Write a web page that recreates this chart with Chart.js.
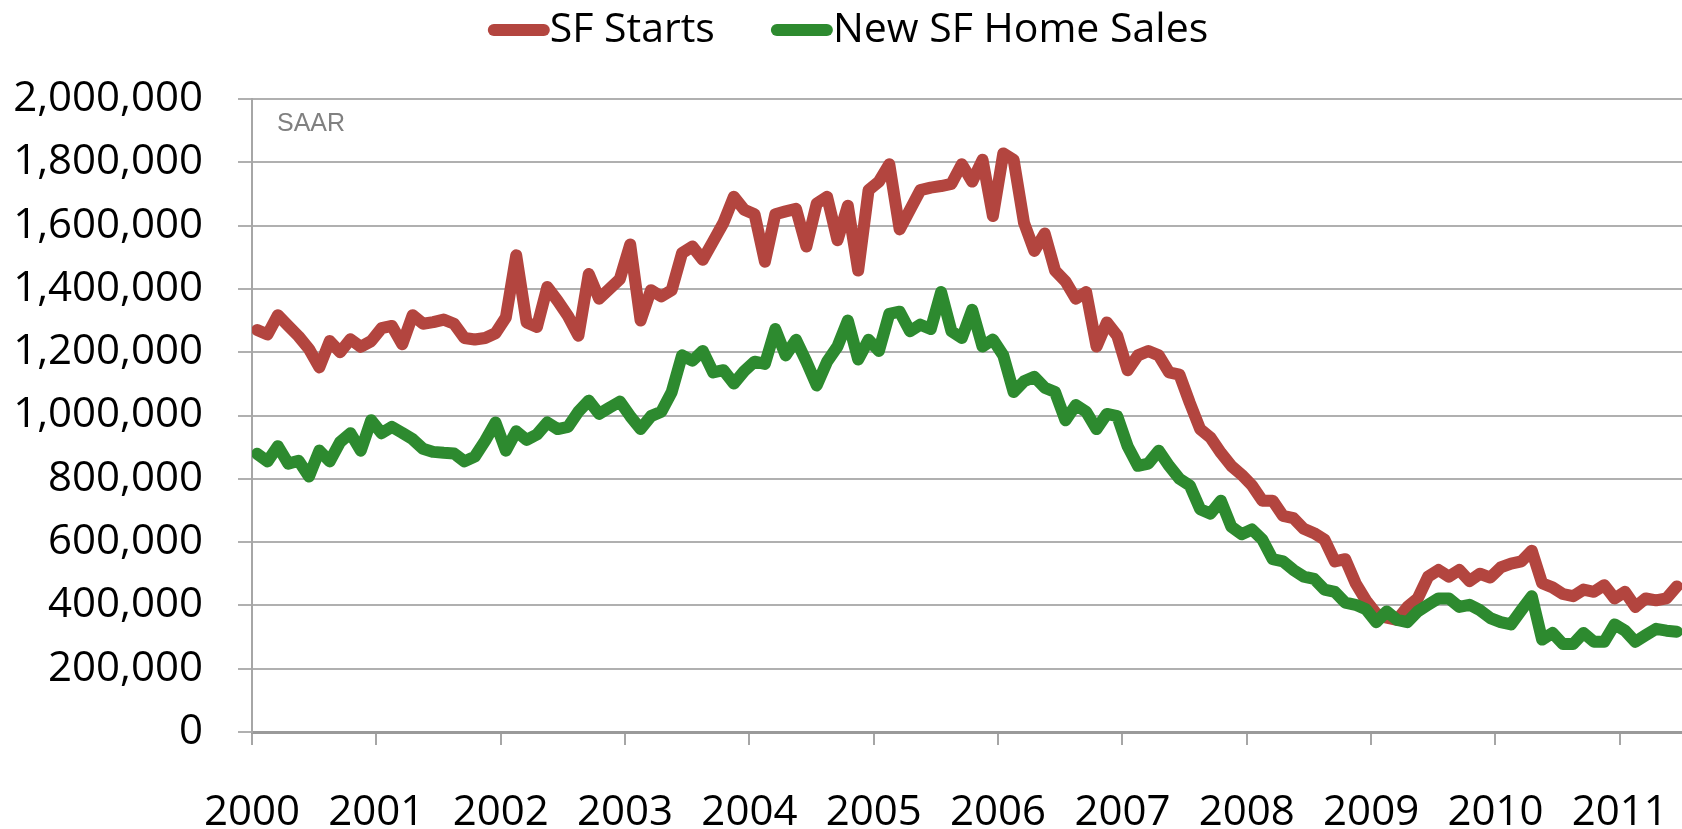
<!DOCTYPE html>
<html>
<head>
<meta charset="utf-8">
<title>SF Starts vs New SF Home Sales</title>
<script src="https://cdn.jsdelivr.net/npm/chart.js@4.4.1/dist/chart.umd.min.js"></script>
<style>
  html, body { margin: 0; padding: 0; background: #fff; }
  #wrap { width: 1682px; height: 829px; }
</style>
</head>
<body>
<div id="wrap"><canvas id="housingChart"></canvas></div>
<script>
// monthly, Jan 2000 .. Jun 2011, seasonally adjusted annual rate
const sfStarts = [
  1270000, 1256000, 1317000, 1283000, 1250000, 1210000, 1152000, 1235000, 1200000, 1241000, 1217000, 1235000,
  1276000, 1283000, 1225000, 1317000, 1290000, 1295000, 1303000, 1290000, 1245000, 1240000, 1245000, 1260000,
  1310000, 1506000, 1294000, 1280000, 1406000, 1362000, 1314000, 1252000, 1447000, 1369000, 1400000, 1431000,
  1540000, 1300000, 1396000, 1376000, 1396000, 1513000, 1534000, 1492000, 1550000, 1609000, 1691000, 1650000,
  1636000, 1486000, 1636000, 1645000, 1653000, 1534000, 1670000, 1691000, 1554000, 1663000, 1458000, 1712000,
  1739000, 1794000, 1588000, 1650000, 1712000, 1720000, 1725000, 1732000, 1794000, 1739000, 1808000, 1630000,
  1828000, 1808000, 1609000, 1520000, 1575000, 1458000, 1424000, 1369000, 1390000, 1218000, 1294000, 1252000,
  1143000, 1190000, 1204000, 1190000, 1136000, 1129000, 1040000, 957000, 930000, 882000, 841000, 813000,
  779000, 731000, 731000, 683000, 676000, 642000, 628000, 608000, 539000, 546000, 470000, 416000,
  374000, 361000, 354000, 395000, 422000, 491000, 512000, 491000, 512000, 477000, 500000, 488000,
  520000, 532000, 539000, 573000, 470000, 457000, 436000, 429000, 450000, 443000, 464000, 422000,
  443000, 395000, 422000, 416000, 422000, 460000
];
const newHomeSales = [
  879000, 855000, 903000, 848000, 857000, 807000, 889000, 855000, 916000, 944000, 889000, 985000,
  944000, 964000, 945000, 925000, 895000, 885000, 882000, 880000, 855000, 870000, 920000, 978000,
  889000, 950000, 923000, 940000, 978000, 957000, 964000, 1012000, 1047000, 1005000, 1025000, 1044000,
  998000, 957000, 998000, 1012000, 1074000, 1190000, 1173000, 1204000, 1136000, 1143000, 1101000, 1140000,
  1170000, 1163000, 1273000, 1190000, 1239000, 1170000, 1095000, 1170000, 1218000, 1300000, 1177000, 1239000,
  1204000, 1321000, 1328000, 1266000, 1287000, 1273000, 1390000, 1266000, 1245000, 1334000, 1218000, 1240000,
  1190000, 1074000, 1108000, 1122000, 1088000, 1074000, 985000, 1033000, 1012000, 957000, 1005000, 998000,
  903000, 841000, 848000, 889000, 841000, 800000, 779000, 704000, 690000, 731000, 649000, 625000,
  640000, 608000, 546000, 539000, 512000, 491000, 484000, 450000, 443000, 409000, 402000, 388000,
  347000, 381000, 354000, 347000, 381000, 402000, 422000, 422000, 395000, 402000, 385000, 360000,
  347000, 340000, 385000, 429000, 292000, 313000, 278000, 278000, 313000, 285000, 285000, 340000,
  320000, 285000, 306000, 326000, 320000, 317000
];
const yearTicks = [0, 12, 24, 36, 48, 60, 72, 84, 96, 108, 120, 132]; // months since Jan 2000
const yearLabels = ['2000', '2001', '2002', '2003', '2004', '2005', '2006', '2007', '2008', '2009', '2010', '2011'];
const seriesNames = ['SF Starts', 'New SF Home Sales'];
const seriesColors = ['#b3453f', '#2d8a2f'];

// points sit in the middle of their month
const toPoints = arr => arr.map((v, i) => ({ x: i + 0.5, y: v }));

const lineLegend = {
  id: 'lineLegend',
  afterDraw(chart) {
    const ctx = chart.ctx;
    const items = chart.data.datasets;
    const lineLen = 50, cap = 6, gap = 56, y = 30;
    ctx.save();
    ctx.font = '41px "Open Sans"';
    ctx.textBaseline = 'middle';
    const widths = items.map(ds => lineLen + cap * 2 + ctx.measureText(ds.label).width);
    let x = chart.width / 2 + 7 - (widths.reduce((a, b) => a + b) + gap) / 2;
    items.forEach((ds, i) => {
      ctx.strokeStyle = ds.borderColor;
      ctx.lineWidth = ds.borderWidth;
      ctx.lineCap = 'round';
      ctx.beginPath();
      ctx.moveTo(x + cap, y);
      ctx.lineTo(x + cap + lineLen, y);
      ctx.stroke();
      ctx.fillStyle = '#000';
      ctx.fillText(ds.label, x + lineLen + cap * 2, y);
      x += widths[i] + gap;
    });
    ctx.restore();
  }
};

const saarNote = {
  id: 'saarNote',
  afterDraw(chart) {
    const ctx = chart.ctx;
    const area = chart.chartArea;
    ctx.save();
    ctx.font = '25px "Liberation Sans"';
    ctx.fillStyle = '#808080';
    ctx.textBaseline = 'middle';
    ctx.fillText('SAAR', area.left + 25, area.top + 25);
    ctx.restore();
  }
};

Chart.defaults.font.family = '"Open Sans", sans-serif';
Chart.defaults.color = '#000';

const ctx = document.getElementById('housingChart').getContext('2d');
const housingChart = new Chart(ctx, {
  type: 'line',
  data: {
    datasets: [
      {
        label: seriesNames[0],
        data: toPoints(sfStarts),
        borderColor: seriesColors[0],
        borderWidth: 12,
        borderJoinStyle: 'round',
        borderCapStyle: 'round',
        pointRadius: 0,
        tension: 0,
        order: 1
      },
      {
        label: seriesNames[1],
        data: toPoints(newHomeSales),
        borderColor: seriesColors[1],
        borderWidth: 12,
        borderJoinStyle: 'round',
        borderCapStyle: 'round',
        pointRadius: 0,
        tension: 0,
        order: 0
      }
    ]
  },
  options: {
    responsive: true,
    maintainAspectRatio: false,
    animation: false,
    layout: { padding: { top: 99, left: 0, right: 0, bottom: 0 } },
    plugins: {
      legend: { display: false },
      tooltip: { enabled: false }
    },
    scales: {
      x: {
        type: 'linear',
        min: 0,
        max: 138,
        afterBuildTicks: axis => { axis.ticks = yearTicks.map(v => ({ value: v })); },
        afterFit: axis => {
          axis.height = 97;
          axis.paddingLeft = 0;
          axis.paddingRight = 0;
        },
        ticks: {
          font: { size: 42 },
          padding: 43,
          maxRotation: 0,
          autoSkip: false,
          callback: (value, i) => yearLabels[i]
        },
        grid: {
          drawOnChartArea: false,
          drawTicks: true,
          tickLength: 13,
          color: '#a6a6a6',
          lineWidth: 2
        },
        border: { display: true, color: '#9a9a9a', width: 3 }
      },
      y: {
        min: 0,
        max: 2000000,
        afterFit: axis => { axis.width = 252; },
        ticks: {
          stepSize: 200000,
          font: { size: 42 },
          padding: 35,
          callback: value => value.toLocaleString('en-US')
        },
        grid: {
          color: '#b0b0b0',
          lineWidth: 2,
          tickLength: 14
        },
        border: { display: true, color: '#a6a6a6', width: 2 }
      }
    }
  },
  plugins: [lineLegend, saarNote]
});
</script>
</body>
</html>
